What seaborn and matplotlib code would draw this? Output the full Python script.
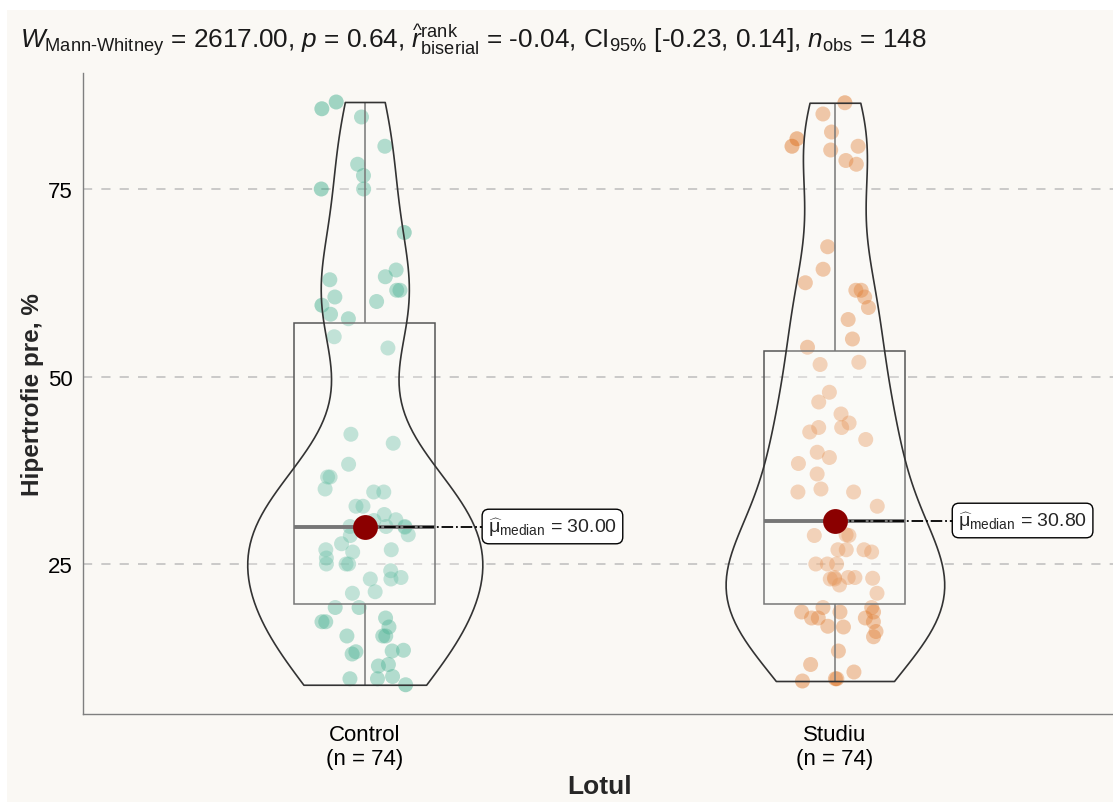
import numpy as np
import pandas as pd
import seaborn as sns
import matplotlib
matplotlib.use("Agg")
import matplotlib.pyplot as plt
from matplotlib.patches import Rectangle

# values
control = [86.6, 85.7, 84.6, 80.7, 78.3, 76.8, 75.0, 75.0, 69.2, 64.2,
           63.3, 62.9, 61.5, 61.5, 60.6, 60.0, 59.5, 58.3, 57.7, 55.3,
           53.8, 41.1, 42.3, 38.3, 36.6, 36.6, 34.6, 34.6, 35.0, 32.7,
           32.7, 30.9, 31.6, 30.8, 30.1, 29.9, 28.9, 28.8, 27.7, 26.9,
           26.9, 26.6, 25.8, 25.0, 25.0, 25.0, 24.1, 23.2, 23.0, 23.0,
           21.3, 21.1, 19.2, 19.2, 17.8, 17.3, 17.3, 16.6, 15.4, 15.4,
           15.4, 13.5, 13.3, 13.0, 13.4, 11.6, 11.4, 10.0, 9.7, 8.9,
           9.7, 30.0, 30.0, 30.0]
studiu = [86.5, 85.0, 82.6, 81.7, 80.7, 80.7, 80.2, 78.8, 78.3, 67.3,
          64.3, 62.5, 61.5, 60.6, 61.5, 59.2, 57.6, 55.0, 53.9, 51.9,
          51.6, 47.9, 46.6, 45.0, 43.8, 43.2, 43.2, 42.6, 41.6, 39.9,
          39.2, 38.4, 37.0, 34.6, 35.0, 34.6, 32.7, 28.9, 28.8, 28.8,
          26.9, 26.9, 26.9, 26.6, 25.0, 25.0, 25.0, 23.1, 23.2, 23.2,
          23.0, 23.2, 23.0, 22.2, 21.1, 18.6, 17.8, 18.6, 18.6, 19.2,
          19.2, 17.8, 17.3, 17.8, 16.7, 16.0, 16.6, 15.3, 13.4, 11.6,
          10.6, 9.7, 9.7, 9.4]
groups = ["Control", "Studiu"]
colors = ["#1B9E77", "#D95F02"]
yticks = [25, 50, 75]

title = (r"$W_{\mathrm{Mann‐Whitney}}$ = 2617.00, $p$ = 0.64, "
         r"$\widehat{r}_{\mathrm{biserial}}^{\mathrm{rank}}$ = -0.04, "
         r"CI$_{95\%}$ [-0.23, 0.14], $n_{\mathrm{obs}}$ = 148")

df = pd.DataFrame({
    "Lotul": ["Control"] * len(control) + ["Studiu"] * len(studiu),
    "val": control + studiu,
})

bg = "#FAF8F4"
sns.set_theme(style="white")
plt.rcParams["font.family"] = ["Liberation Sans", "DejaVu Sans"]
plt.rcParams["mathtext.fontset"] = "custom"
plt.rcParams["mathtext.rm"] = "Liberation Sans"
plt.rcParams["mathtext.it"] = "Liberation Sans:italic"
plt.rcParams["mathtext.bf"] = "Liberation Sans:bold"

fig = plt.figure(figsize=(11.13, 8.03), dpi=100, facecolor="white")
fig.patches.append(Rectangle((7 / 1113, 0), 1, 1 - 11 / 803, transform=fig.transFigure,
                             facecolor=bg, edgecolor="none", zorder=-10))
ax = fig.add_axes([82.7 / 1113, 1 - 715 / 803, (1117 - 82.7) / 1113, (715 - 73.75) / 803])
ax.set_facecolor(bg)

np.random.seed(11)
sns.stripplot(data=df, x="Lotul", y="val", hue="Lotul", palette=colors, order=groups,
              jitter=0.095, size=10.8, alpha=0.4, linewidth=0, legend=False,
              zorder=1, ax=ax)

n_before = len(ax.patches)
sns.boxplot(data=df, x="Lotul", y="val", order=groups, width=0.3, color="white",
            linecolor="#555555", linewidth=1.1, showcaps=False, showfliers=False,
            medianprops=dict(linewidth=2.8, color="#555555"), zorder=2, ax=ax)
for p in ax.patches[n_before:]:
    p.set_facecolor((1, 1, 1, 0.2))

n_coll = len(ax.collections)
sns.violinplot(data=df, x="Lotul", y="val", order=groups, width=0.5, cut=0, inner=None,
               density_norm="area", bw_method=0.38, color="white", saturation=1,
               linecolor="#333333", linewidth=1.2, ax=ax)
for c in ax.collections[n_coll:]:
    c.set_facecolor((1, 1, 1, 0.2))
    c.set_zorder(3)

# medians with labels
for i, vals in enumerate([control, studiu]):
    med = np.median(vals)
    ax.plot([i, i + 0.25], [med, med], color="black", lw=1.3, ls="-.", zorder=4)
    ax.scatter([i], [med], s=320, color="#8B0000", zorder=5, linewidths=0)
    ax.text(i + 0.262, med, r"$\widehat{\mathrm{\mu}}_{\mathrm{median}}$" + f" = {med:.2f}",
            fontsize=14, ha="left", va="center", zorder=6,
            bbox=dict(boxstyle="round,pad=0.3,rounding_size=0.35", facecolor="white",
                      edgecolor="black", linewidth=1))

ax.set_xlim(-0.6, 1.6)
ax.set_ylim(5.0, 90.5)
ax.set_yticks(yticks)
ax.set_xticks(range(len(groups)))
ax.set_xticklabels([f"{g}\n(n = {len(v)})" for g, v in zip(groups, [control, studiu])])
ax.tick_params(axis="both", length=0, labelsize=16, labelcolor="black", pad=7)
ax.yaxis.grid(True, color="#bdbdbd", linestyle=(0, (6, 6)), linewidth=1.1)
ax.xaxis.grid(False)
ax.set_axisbelow(True)
for s in ["top", "right"]:
    ax.spines[s].set_visible(False)
for s in ["left", "bottom"]:
    ax.spines[s].set_color("#7f7f7f")
    ax.spines[s].set_linewidth(1.0)

ax.set_xlabel("Lotul", fontsize=19, fontweight="bold", labelpad=4)
ax.set_ylabel("Hipertrofie pre, %", fontsize=17.5, fontweight="bold", labelpad=3)

fig.text(20 / 1113, 1 - 41 / 803, title, fontsize=18.8, color="#1a1a1a", ha="left", va="center")

fig.savefig("out.png", dpi=100, facecolor="white")
